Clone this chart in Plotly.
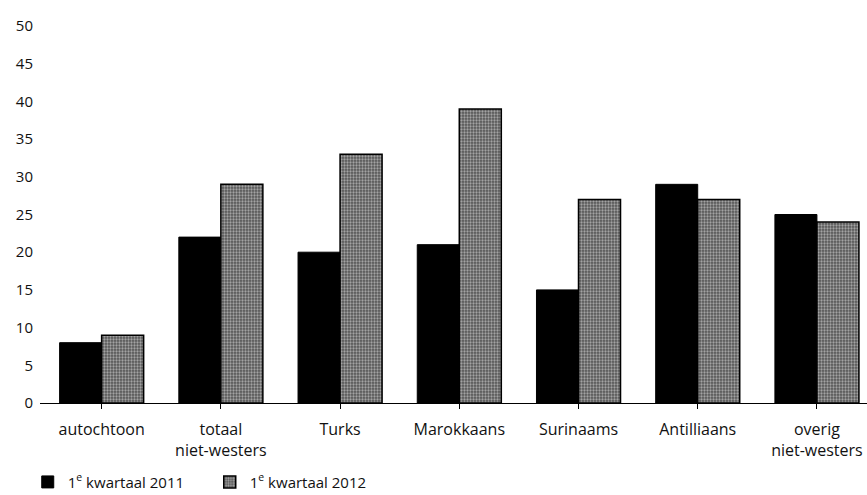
import plotly.graph_objects as go

categories = ["autochtoon", "totaal<br>niet-westers", "Turks", "Marokkaans",
              "Surinaams", "Antilliaans", "overig<br>niet-westers"]
q1_2011 = [8, 22, 20, 21, 15, 29, 25]
q1_2012 = [9, 29, 33, 39, 27, 27, 24]
y_ticks = [0, 5, 10, 15, 20, 25, 30, 35, 40, 45, 50]
series_names = ["1<sup>e</sup> kwartaal 2011", "1<sup>e</sup> kwartaal 2012"]

xpos = list(range(len(categories)))

fig = go.Figure()
fig.add_trace(go.Bar(
    x=xpos, y=q1_2011, name=series_names[0],
    marker=dict(color="#000000", line=dict(color="#000000", width=1)),
))
fig.add_trace(go.Bar(
    x=xpos, y=q1_2012, name=series_names[1],
    marker=dict(color="#9a9a9a", line=dict(color="#000000", width=1.5),
                pattern=dict(shape=".", fgcolor="#f2f2f2", bgcolor="#555555",
                             size=3, solidity=0.45, fillmode="overlay")),
))

fig.update_layout(
    width=867, height=495,
    margin=dict(l=40, r=0, t=26, b=92, autoexpand=False),
    paper_bgcolor="white", plot_bgcolor="white",
    barmode="group", bargap=0.295, bargroupgap=0,
    font=dict(family="Open Sans", size=15, color="#111111"),
    showlegend=True,
    legend=dict(orientation="h", xref="container", yref="paper",
                x=0.032, xanchor="left", y=-0.21, yanchor="middle",
                font=dict(size=15), itemwidth=30, traceorder="normal",
                entrywidth=137),
    xaxis=dict(
        tickmode="array", tickvals=xpos, ticktext=categories,
        range=[-0.517, 6.42], showline=True, linecolor="#000000", linewidth=1,
        ticks="outside", ticklen=5, tickcolor="#000000", showgrid=False,
        zeroline=False, automargin=False, ticklabelstandoff=7,
        tickfont=dict(size=16),
    ),
    yaxis=dict(
        range=[0, 50], tickmode="array", tickvals=y_ticks,
        showgrid=False, zeroline=False, showline=False, ticks="",
        automargin=False, ticklabelstandoff=6,
    ),
)

fig.write_html("out.html", config={"displayModeBar": False},
               post_script="document.body.style.margin='0';document.body.style.overflow='hidden';")
